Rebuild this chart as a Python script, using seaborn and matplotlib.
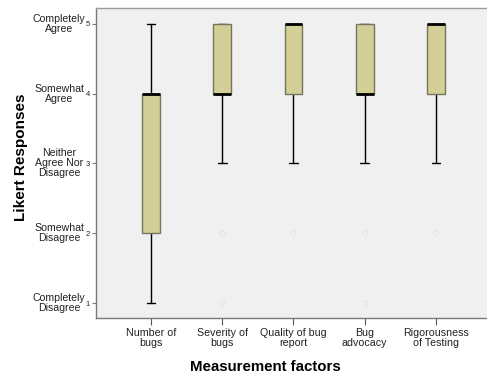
import numpy as np
import pandas as pd
import matplotlib
matplotlib.use("Agg")
import matplotlib.pyplot as plt
import matplotlib.transforms as mtransforms
import seaborn as sns

# ── Data (Likert responses, 1..5) ─────────────────────────────────────────────
factors = [
    "Number of\nbugs",
    "Severity of\nbugs",
    "Quality of bug\nreport",
    "Bug\nadvocacy",
    "Rigorousness\nof Testing",
]
number_of_bugs = [1, 2, 2, 4, 4, 4, 5]
severity_of_bugs = [1, 2, 3, 4, 4, 4, 4, 4, 4, 5, 5, 5, 5, 5]
quality_of_report = [2, 3, 4, 4, 4, 4, 5, 5, 5, 5, 5, 5, 5, 5]
bug_advocacy = [1, 2, 3, 4, 4, 4, 4, 4, 4, 5, 5, 5, 5, 5]
rigorousness = [2, 3, 4, 4, 4, 4, 5, 5, 5, 5, 5, 5, 5, 5]

likert_values = [1, 2, 3, 4, 5]
likert_names = [
    "Completely\nDisagree",
    "Somewhat\nDisagree",
    "Neither\nAgree Nor\nDisagree",
    "Somewhat\nAgree",
    "Completely\nAgree",
]

# ── Style ──────────────────────────────────────────────────────────────────────
BOX_COLOR = "#d3cf97"
FACE_COLOR = "#f0f0f0"
SPINE_COLOR = "#7a7a7a"
TEXT_COLOR = "#222222"

sns.set_style("white")
plt.rcParams["font.family"] = ["Liberation Sans", "DejaVu Sans"]

series = [number_of_bugs, severity_of_bugs, quality_of_report, bug_advocacy, rigorousness]
df = pd.DataFrame({
    "factor": np.concatenate([[f] * len(s) for f, s in zip(factors, series)]),
    "response": np.concatenate(series),
})

fig = plt.figure(figsize=(4.87, 3.75), dpi=100)
ax = fig.add_axes([96 / 487, 1 - 318 / 375, 1 - 96 / 487, 310 / 375])
ax.set_facecolor(FACE_COLOR)

sns.boxplot(
    data=df, x="factor", y="response", order=factors, ax=ax,
    color=BOX_COLOR, width=0.25, whis=1.5, saturation=1,
    boxprops=dict(facecolor=BOX_COLOR, edgecolor="#75755f", linewidth=1),
    whiskerprops=dict(color="black", linewidth=1, zorder=0.5),
    capprops=dict(color="black", linewidth=1, zorder=0.5),
    medianprops=dict(color="black", linewidth=2),
    flierprops=dict(marker="o", markersize=3.5, markerfacecolor="none",
                    markeredgecolor="#dfe6ee", markeredgewidth=0.8),
)

ax.set_xlim(-0.772, 4.716)
ax.set_ylim(0.785, 5.229)

ax.set_yticks(likert_values)
ax.set_yticklabels([str(v) for v in likert_values], fontsize=5.5, color=TEXT_COLOR)
ax.tick_params(axis="y", length=3, width=0.8, color=SPINE_COLOR, pad=1.5, left=True)
ax.tick_params(axis="x", length=5, width=0.8, color="#555555", pad=2, bottom=True,
               labelsize=7.7, labelcolor=TEXT_COLOR)
for lbl in ax.get_xticklabels():
    lbl.set_linespacing(1.0)

# descriptive Likert labels left of the numeric ticks
trans = mtransforms.blended_transform_factory(fig.transFigure, ax.transData)
for v, name in zip(likert_values, likert_names):
    ax.text(59 / 487, v, name, transform=trans, ha="center", va="center",
            fontsize=7.6, color=TEXT_COLOR, linespacing=1.0, clip_on=False)

ax.set_xlabel("")
ax.set_ylabel("")
fig.text(265 / 487, 1 - 367 / 375, "Measurement factors", ha="center", va="center",
         fontsize=10.8, fontweight="bold", color="black")
fig.text(21 / 487, 1 - 157 / 375, "Likert Responses", ha="center", va="center",
         rotation=90, fontsize=11, fontweight="bold", color="black")

for side in ["left", "bottom"]:
    ax.spines[side].set_color(SPINE_COLOR)
    ax.spines[side].set_linewidth(1)
ax.spines["top"].set_color("#9a9a9a")
ax.spines["top"].set_linewidth(1)
ax.spines["right"].set_visible(False)
ax.grid(False)

fig.savefig("out.png", dpi=100)
